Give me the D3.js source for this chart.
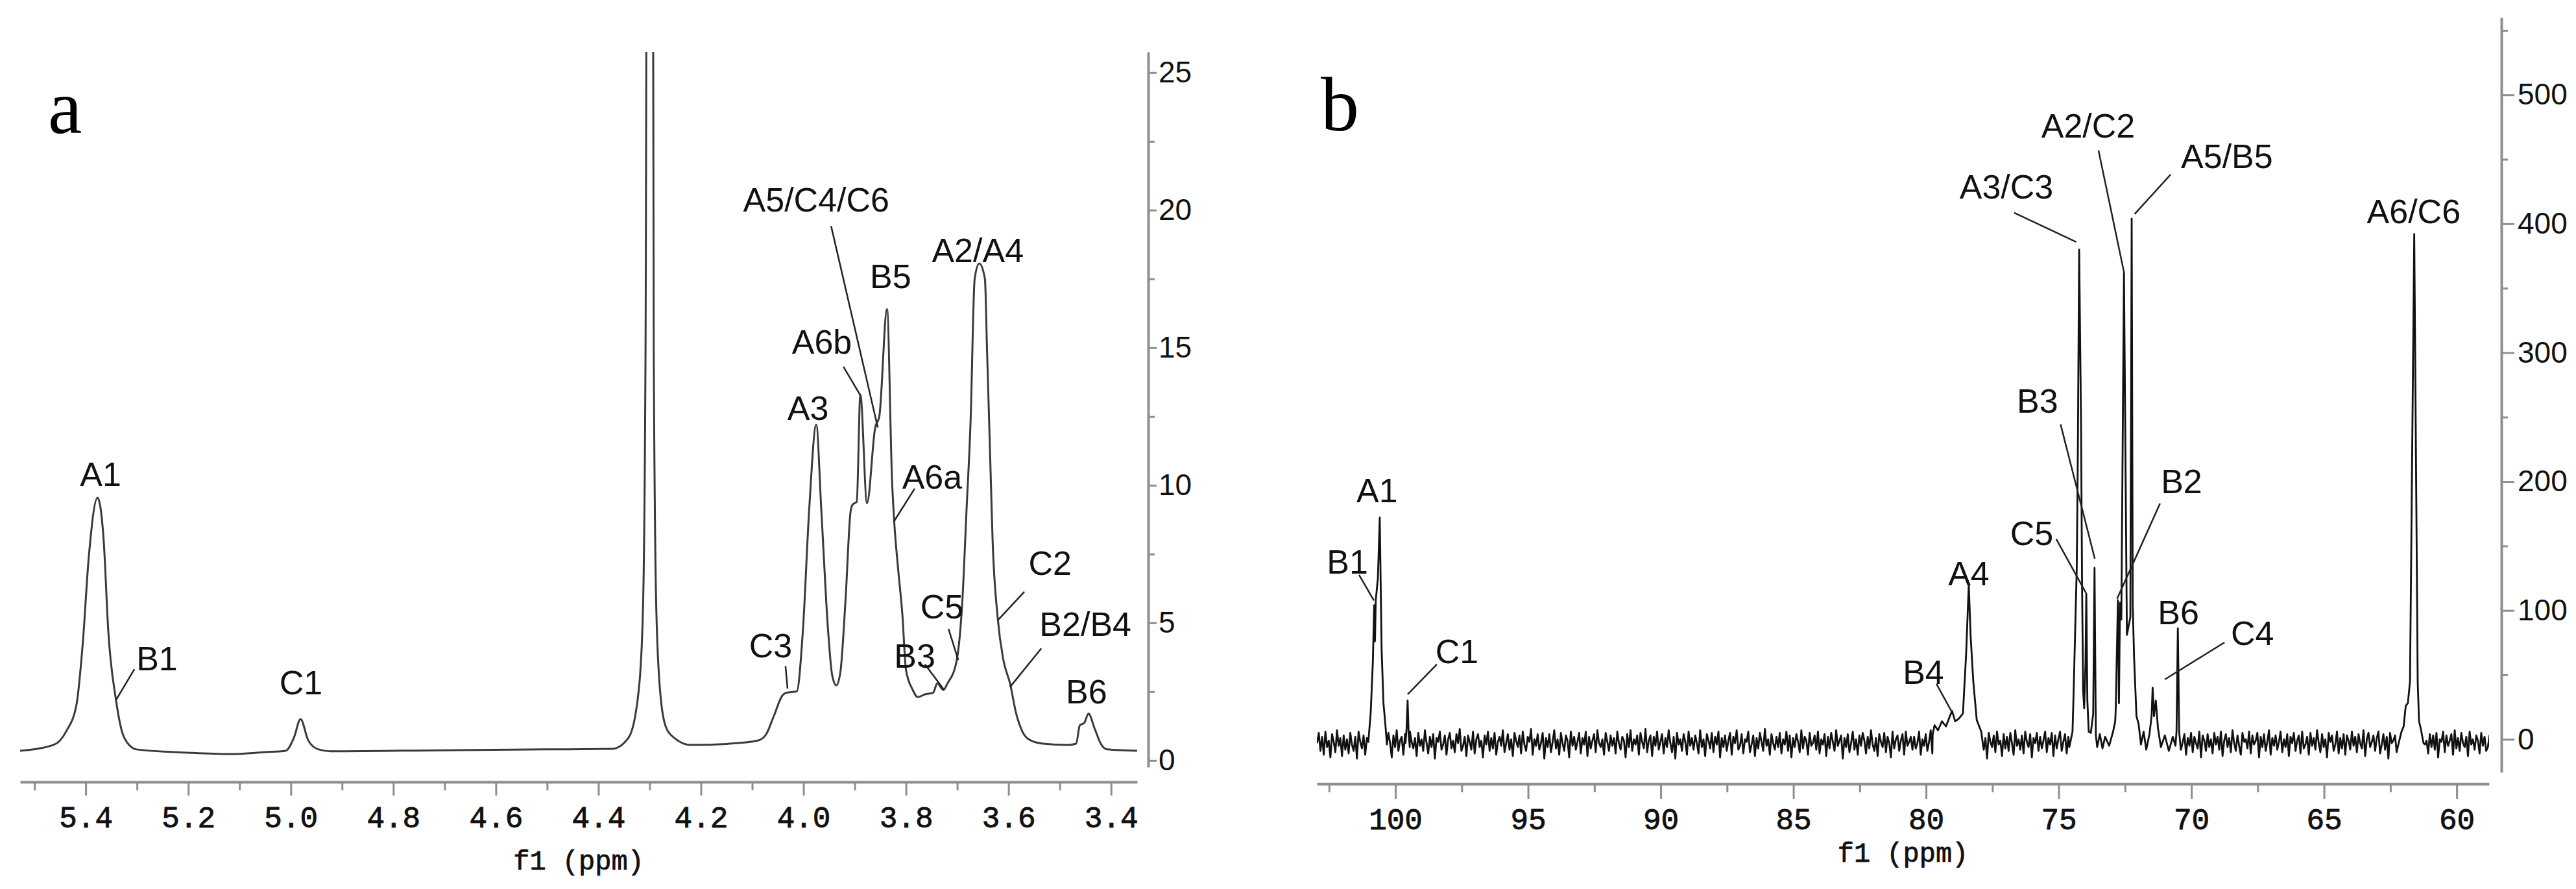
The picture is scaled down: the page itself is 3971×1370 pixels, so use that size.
<!DOCTYPE html>
<html>
<head>
<meta charset="utf-8">
<script src="https://cdn.jsdelivr.net/npm/d3@7"></script>
<style>
  body { margin: 0; background: #fff; }
</style>
</head>
<body>
<div id="nmr"></div>
<script>
// ---- panel a : 1H spectrum, traced [ppm, intensity] ----
const hSpectrum = [
  [5.528, 0.35], [5.462, 0.57], [5.438, 1.06], [5.418, 2.03], [5.406, 4.2], [5.394, 7.4],
  [5.377, 9.55], [5.365, 8.0], [5.356, 4.7], [5.341, 2.2], [5.325, 0.83], [5.301, 0.4],
  [5.2, 0.28], [5.12, 0.23], [5.05, 0.3], [5.01, 0.35], [4.994, 0.82], [4.981, 1.5],
  [4.966, 0.73], [4.946, 0.4], [4.92, 0.33], [4.7, 0.37], [4.5, 0.4], [4.373, 0.42],
  [4.341, 0.83], [4.321, 2.6], [4.313, 5.5], [4.308, 15], [4.300, 90], [4.292, 15],
  [4.287, 5.5], [4.279, 2.4], [4.268, 1.2], [4.252, 0.82], [4.219, 0.56], [4.15, 0.6],
  [4.089, 0.72], [4.073, 0.94], [4.058, 1.6], [4.041, 2.36], [4.033, 2.46], [4.013, 2.51],
  [4.001, 4.74], [3.989, 9.05], [3.975, 12.2], [3.965, 9.05], [3.952, 4.74], [3.944, 3.1],
  [3.936, 2.73], [3.928, 3.2], [3.918, 5.8], [3.908, 9.05], [3.904, 9.3], [3.896, 9.4],
  [3.889, 13.3], [3.876, 9.35], [3.860, 12.1], [3.852, 12.5], [3.837, 16.4], [3.827, 10.1],
  [3.823, 8.7], [3.815, 6.9], [3.807, 5.3], [3.8, 3.3], [3.787, 2.57], [3.777, 2.3],
  [3.763, 2.4], [3.747, 2.46], [3.739, 2.8], [3.727, 2.56], [3.719, 2.8], [3.702, 3.55],
  [3.69, 5.8], [3.682, 9.05], [3.674, 12.3], [3.666, 17.5], [3.657, 18.06], [3.646, 17.5],
  [3.642, 15], [3.636, 11.2], [3.631, 8], [3.621, 5.17], [3.61, 3.65], [3.597, 2.8],
  [3.585, 1.7], [3.573, 1.05], [3.557, 0.73], [3.533, 0.61], [3.485, 0.56], [3.468, 0.61],
  [3.461, 1.27], [3.452, 1.37], [3.444, 1.7], [3.432, 1.16], [3.42, 0.61], [3.408, 0.4],
  [3.349, 0.35]
];

// peak labels for panel a: text anchor (ppm, intensity) + optional leader line
const hLabels = [
  { t: "A1", x: 5.371, y: 9.97 },
  { t: "B1", x: 5.261, y: 3.27, l: [5.305, 3.32, 5.341, 2.19] },
  { t: "C1", x: 4.980, y: 2.40 },
  { t: "C3", x: 4.064, y: 3.745, l: [4.035, 3.43, 4.031, 2.61] },
  { t: "A3", x: 3.991, y: 12.375 },
  { t: "A6b", x: 3.964, y: 14.78, l: [3.922, 14.31, 3.889, 13.27] },
  { t: "A5/C4/C6", x: 3.975, y: 19.94, l: [3.946, 19.42, 3.855, 12.10] },
  { t: "B5", x: 3.830, y: 17.16 },
  { t: "A2/A4", x: 3.660, y: 18.10 },
  { t: "A6a", x: 3.749, y: 9.88, l: [3.783, 9.88, 3.824, 8.67] },
  { t: "C2", x: 3.519, y: 6.74, l: [3.569, 6.13, 3.620, 5.11] },
  { t: "C5", x: 3.730, y: 5.16, l: [3.717, 4.78, 3.698, 3.65] },
  { t: "B3", x: 3.783, y: 3.37, l: [3.763, 3.49, 3.726, 2.57] },
  { t: "B2/B4", x: 3.450, y: 4.52, l: [3.536, 4.07, 3.597, 2.67] },
  { t: "B6", x: 3.448, y: 2.07 }
];

const aXTicks = [5.4, 5.2, 5.0, 4.8, 4.6, 4.4, 4.2, 4.0, 3.8, 3.6, 3.4];
const aXMinor = [5.5, 5.3, 5.1, 4.9, 4.7, 4.5, 4.3, 4.1, 3.9, 3.7, 3.5];
const aYTicks = [0, 5, 10, 15, 20, 25];
const aYMinor = [2.5, 7.5, 12.5, 17.5, 22.5];

// ---- panel b : 13C spectrum ----
// peak groups [ppm, intensity]
const cA1 = [[101.02, -2], [100.93, 21], [100.85, 60], [100.80, 104], [100.77, 76], [100.74, 108],
  [100.66, 125], [100.59, 172], [100.52, 70], [100.45, 28], [100.38, 12], [100.32, -4]];
const cC1 = [[99.62, -3], [99.58, 8], [99.54, 30], [99.50, 4], [99.46, -6]];
const cA4 = [[79.75, 4], [79.68, 11], [79.55, 7], [79.40, 14], [79.25, 10], [79.10, 18], [79.02, 22],
  [78.90, 14], [78.77, 16], [78.61, 20], [78.49, 66], [78.39, 120], [78.32, 80], [78.22, 45],
  [78.09, 15], [77.92, 6], [77.85, -5]];
const cMid = [[74.60, -6], [74.48, 6], [74.44, 35], [74.32, 133], [74.28, 219], [74.23, 380],
  [74.16, 249], [74.12, 120], [74.08, 38], [74.04, 24], [73.99, 60], [73.96, 113], [73.92, 30],
  [73.87, 6], [73.79, 5], [73.70, 20], [73.65, 133], [73.60, 3], [73.55, -6], [73.45, 4],
  [73.35, -7], [73.25, 2], [73.10, -5], [72.95, 6], [72.87, 14], [72.85, 24], [72.77, 108],
  [72.73, 28], [72.69, 106], [72.64, 93], [72.54, 362], [72.43, 81], [72.30, 95], [72.25, 404],
  [72.21, 104], [72.16, 64], [72.07, 18], [71.99, 12], [71.90, -4], [71.80, 6], [71.70, -8],
  [71.58, 4], [71.50, 18], [71.46, 40], [71.41, 18], [71.34, 30], [71.26, 9], [71.15, -6],
  [71.00, 3], [70.85, -9], [70.70, 2], [70.60, -5], [70.56, 6], [70.51, 86], [70.46, 6], [70.40, -8]];
const cA6 = [[62.20, -4], [62.08, 6], [62.00, 10], [61.92, 26], [61.84, 28], [61.76, 45],
  [61.60, 392], [61.47, 45], [61.42, 14], [61.35, 8], [61.25, -3]];

// baseline noise, one value every 0.0625 ppm from 102.95 ppm
const noiseStart = 102.95, noiseStep = 0.0625;
const cNoise = [
  -3, 5, -9, 2, -12, 6, -6, -1, -14, 4, -2, -10, 7, -5, 1, -13, 3, -8, 0, -11,
  5, -4, -9, 2, -15, 6, -2, -7, 3, -12, 1, -6, 8, -10, -1, 4, -13, 0, -5, 6,
  -8, 2, -11, 5, -3, -14, 3, -6, 7, -9, -1, 2, -12, 4, -4, -10, 6, -2, -7, 1,
  -13, 5, -5, 0, -9, 7, -3, -11, 2, -6, 4, -15, 1, -2, 6, -8, -4, 3, -12, 0,
  5, -7, -1, -10, 4, -3, 8, -9, -5, 2, -13, 3, -2, -8, 6, -11, 0, 4, -6, -1,
  -14, 3, -4, 6, -9, 1, -7, 5, -12, -2, 2, -5, 7, -10, -3, 4, -8, 0, -13, 5,
  -1, -6, 3, -11, 6, -4, -9, 2, -2, 8, -12, 0, -5, 4, -8, -3, 5, -15, 1, -6,
  4, -10, -2, 7, -7, 0, -12, 5, -3, -9, 3, -1, -14, 6, -5, 2, -8, -2, 5, -11,
  1, -4, 6, -13, 2, -7, -1, 4, -10, 7, -3, -6, 0, -12, 5, -2, -9, 3, -5, 1,
  -11, 6, -3, -8, 2, -1, -14, 4, -6, 7, -9, 0, -4, 3, -12, 5, -2, -7, 8, -10,
  -1, 3, -13, 2, -5, 6, -8, -2, 4, -11, 1, -6, 7, -3, -10, 2, -15, 5, -4, 0,
  -9, 4, -2, -12, 6, -5, 1, -8, 3, -3, -11, 7, -6, 0, -13, 4, -1, -7, 5, -10,
  2, -4, 6, -14, 1, -6, 3, -9, -1, 5, -12, 2, -3, 7, -8, -5, 4, -11, 0, -2,
  6, -10, -4, 3, -13, 1, -7, 5, -2, -9, 8, -5, 0, -12, 4, -3, -8, 2, -6, 5,
  -11, 0, -4, 6, -9, 3, -14, 1, -6, 4, -2, -10, 7, -7, 2, -1, -12, 5, -5, -3,
  3, -8, 6, -11, 0, -4, 4, -13, 2, -7, 5, -2, -9, 7, -5, -1, 3, -15, 1, -6,
  4, -10, -3, 6, -8, 0, -12, 3, -5, 5, -1, -11, 2, -7, 7, -4, -9, 1, -13, 4,
  -2, -6, 5, -10, 2, -3, -14, 6, -7, 0, 3, -9, -1, 4, -12, 6, -5, -2, 2, -8,
  2, -7, -3, 6, -12, 0, -5, 4, -9, -2, 7, -11, 3, -6, -1, 5, -14, 2, -4, -8,
  6, -1, -10, 3, -5, 8, -13, -2, 4, -7, 1, -9, 5, -4, -12, 2, 0, -6, 7, -11,
  -3, 4, -8, 1, -15, 5, -2, -6, 3, -10, 6, -4, -1, -13, 4, -7, 2, -9, 5, -3,
  -12, 7, -5, 0, -8, 3, -11, 6, -2, -6, 4, -14, 1, -3, 5, -9, 2, -7, -1, 6,
  -10, 1, -4, 5, -13, 3, -7, 0, 6, -9, -2, 4, -11, 2, -5, 7, -8, -3, 1, -12,
  5, -6, 2, -10, 4, -1, -14, 6, -4, 0, -8, 3, -12, 5, -2, -7, 7, -5, -9, 2,
  -3, 6, -11, 1, -6, 4, -9, -1, 3, -13, 5, -4, 0, -10, 7, -2, -8, 4, -15, 1,
  -5, 3, -12, 6, -7, -2, 2, -10, 5, -4, -1, -9, 4, -13, 0, 6, -6, -3, 3, -11,
  7, -8, -2, 4, -12, 1, -5, 5, -10, 2, -3, -7, 6, -14, 3, -1, -9, 4, -6, 0,
  -11, 5, -4, 2, -8, 6, -13, -1, 4, -6, 1, -10, 7, -3, -9, 3, -5, -12, 5, -2,
  0, -7, 6, -11, 3, -4, -1, 5, -14, 2, -6, 4, -9, -2, 7, -12, 1, -5, 3, -8,
  -2, 6, -10, 0, -6, 4, -13, 2, -3, 5, -9, -1, 3, -11, 6, -7, -4, 2, -12, 5,
  -5, 1, -8, 7, -3, -10, 4, -6, 0, -14, 5, -2, 3, -9, -4, 6, -11, 1, -7, 4,
  -12, 3, -1, -8, 6, -5, 2, -10, 4, -3, -7, 7, -13, 0, 5, -6, -2, 3, -9, 1,
  6, -11, -4, 4, -8, 2, -15, 5, -3, -1, 3, -10, 6, -6, -2, 4, -12, 1, -5, 7,
  -9, 0, -3, 5, -13, 2, -7, 6, -4, -1, -11, 4, -6, 3, -8, 5, -14, 0, -2, 6,
  -10, 3, -5, -1, 4, -12, 7, -7, 1, -9, 5, -3, -6, 2, -13, 6, -4, 0, -8, 3,
  -1, -11, 5, -5, 2, -9, -6, 3, -10, 1
];

const cLabels = [
  { t: "A1", x: 100.69, y: 184 },
  { t: "B1", x: 101.81, y: 128.6, l: [101.37, 127.6, 100.81, 107.7] },
  { t: "C1", x: 97.68, y: 59.1, l: [98.44, 58.1, 99.54, 34.9] },
  { t: "B4", x: 80.10, y: 43.0, l: [79.61, 43.0, 79.02, 21.0] },
  { t: "A4", x: 78.39, y: 119.5 },
  { t: "C5", x: 76.02, y: 150.7, l: [75.09, 155.3, 73.97, 113.5] },
  { t: "B3", x: 75.80, y: 253.4, l: [74.93, 244.4, 73.64, 140.2] },
  { t: "A3/C3", x: 76.97, y: 419.6, l: [76.68, 408.5, 74.34, 385.9] },
  { t: "A2/C2", x: 73.89, y: 467, l: [73.50, 456.9, 72.54, 362.4] },
  { t: "A5/B5", x: 68.66, y: 443.3, l: [70.78, 438.2, 72.14, 407.5] },
  { t: "B2", x: 70.37, y: 191, l: [71.18, 183, 72.80, 109] },
  { t: "B6", x: 70.49, y: 89.3 },
  { t: "C4", x: 67.70, y: 73.2, l: [68.75, 75.2, 71.00, 46.5] },
  { t: "A6/C6", x: 61.62, y: 400.5 }
];

const bXTicks = [100, 95, 90, 85, 80, 75, 70, 65, 60];
const bXMinor = [102.5, 97.5, 92.5, 87.5, 82.5, 77.5, 72.5, 67.5, 62.5];
const bYTicks = [0, 100, 200, 300, 400, 500];
const bYMinor = [50, 150, 250, 350, 450, 550];

// ---- drawing ----
const width = 3971, height = 1370;
const axisGrey = "#8e8e8e";
const labelFont = "'Liberation Sans', Arial, sans-serif";
const monoFont = "'Liberation Mono', 'Courier New', monospace";

const svg = d3.select("#nmr")
  .append("svg")
  .attr("width", width)
  .attr("height", height)
  .attr("viewBox", [0, 0, width, height])
  .style("background", "#fff");

// style an axis group the way the spectrum software does
function styleAxis(g, fontFamily, fontSize, heavy) {
  g.attr("font-family", fontFamily).attr("font-size", fontSize);
  g.select(".domain").attr("stroke", axisGrey).attr("stroke-width", 4);
  g.selectAll(".tick line").attr("stroke", axisGrey).attr("stroke-width", 3);
  g.selectAll(".tick text").attr("fill", "#111");
  if (heavy) g.selectAll(".tick text").attr("stroke", "#111").attr("stroke-width", 0.9);
}

function drawPanel(cfg) {
  const x = d3.scaleLinear().domain(cfg.xDomain).range(cfg.xRange);
  const y = d3.scaleLinear().domain(cfg.yDomain).range(cfg.yRange);

  // x axis (major + minor ticks)
  svg.append("g")
    .attr("transform", `translate(0,${cfg.xAxisY})`)
    .call(d3.axisBottom(x).tickValues(cfg.xTicks).tickSize(cfg.xTickLen)
      .tickPadding(cfg.xPad).tickSizeOuter(0).tickFormat(cfg.xFormat))
    .call(g => styleAxis(g, monoFont, 46, true));
  svg.append("g")
    .attr("transform", `translate(0,${cfg.xAxisY})`)
    .call(d3.axisBottom(x).tickValues(cfg.xMinor).tickSize(13).tickFormat(""))
    .call(g => { g.select(".domain").remove(); styleAxis(g, monoFont, 46); });

  // axis title
  svg.append("text")
    .attr("x", (cfg.xRange[0] + cfg.xRange[1]) / 2)
    .attr("y", cfg.titleY)
    .attr("text-anchor", "middle")
    .attr("font-family", monoFont)
    .attr("font-size", 42)
    .attr("fill", "#111")
    .attr("stroke", "#111")
    .attr("stroke-width", 0.8)
    .text("f1 (ppm)");

  // right-hand y axis
  svg.append("g")
    .attr("transform", `translate(${cfg.yAxisX},0)`)
    .call(d3.axisRight(y).tickValues(cfg.yTicks).tickSize(cfg.yTickLen)
      .tickPadding(cfg.yPad).tickSizeOuter(0))
    .call(g => styleAxis(g, labelFont, 46));
  svg.append("g")
    .attr("transform", `translate(${cfg.yAxisX},0)`)
    .call(d3.axisRight(y).tickValues(cfg.yMinor).tickSize(10).tickFormat(""))
    .call(g => { g.select(".domain").remove(); styleAxis(g, labelFont, 46); });

  // spectrum, clipped to the plotting box
  svg.append("clipPath").attr("id", cfg.id + "-clip")
    .append("rect")
    .attr("x", cfg.xRange[0]).attr("y", cfg.yRange[1])
    .attr("width", cfg.xRange[1] - cfg.xRange[0])
    .attr("height", cfg.yRange[0] - cfg.yRange[1]);

  const line = d3.line()
    .x(d => x(d[0]))
    .y(d => y(d[1]))
    .curve(cfg.curve);

  svg.append("path")
    .datum(cfg.data)
    .attr("clip-path", `url(#${cfg.id}-clip)`)
    .attr("fill", "none")
    .attr("stroke", cfg.stroke)
    .attr("stroke-width", cfg.strokeWidth)
    .attr("stroke-linejoin", "round")
    .attr("d", line);

  // leader lines
  svg.append("g")
    .selectAll("line")
    .data(cfg.labels.filter(d => d.l))
    .join("line")
    .attr("x1", d => x(d.l[0])).attr("y1", d => y(d.l[1]))
    .attr("x2", d => x(d.l[2])).attr("y2", d => y(d.l[3]))
    .attr("stroke", "#222")
    .attr("stroke-width", 2.5);

  // peak labels
  svg.append("g")
    .selectAll("text")
    .data(cfg.labels)
    .join("text")
    .attr("x", d => x(d.x))
    .attr("y", d => y(d.y))
    .attr("text-anchor", "middle")
    .attr("font-family", labelFont)
    .attr("font-size", 52)
    .attr("fill", "#111")
    .text(d => d.t);

  // panel letter
  svg.append("text")
    .attr("x", cfg.letterX).attr("y", cfg.letterY)
    .attr("font-family", "'Liberation Serif', 'Times New Roman', serif")
    .attr("font-size", 118)
    .attr("fill", "#000")
    .text(cfg.letter);
}

// panel b trace: peaks merged with baseline noise outside the peak windows
const cGroups = [cA1, cC1, cA4, cMid, cA6];
const windows = cGroups.map(g => d3.extent(g, d => d[0]));
const noisePts = cNoise
  .map((v, i) => [noiseStart - i * noiseStep, v])
  .filter(p => !windows.some(w => p[0] >= w[0] && p[0] <= w[1]));
const cSpectrum = noisePts.concat(...cGroups).sort((a, b) => b[0] - a[0]);

drawPanel({
  id: "a", letter: "a", letterX: 74, letterY: 205,
  data: hSpectrum, labels: hLabels, curve: d3.curveMonotoneX,
  stroke: "#3a3a3a", strokeWidth: 3,
  xDomain: [5.528, 3.349], xRange: [31, 1753],
  yDomain: [-0.24, 25.75], yRange: [1182, 80],
  xAxisY: 1205, xTicks: aXTicks, xMinor: aXMinor, xTickLen: 21, xPad: 16,
  xFormat: d3.format(".1f"), titleY: 1340,
  yAxisX: 1770, yTicks: aYTicks, yMinor: aYMinor, yTickLen: 13, yPad: 3
});

drawPanel({
  id: "b", letter: "b", letterX: 2036, letterY: 201,
  data: cSpectrum, labels: cLabels, curve: d3.curveLinear,
  stroke: "#111", strokeWidth: 2.8,
  xDomain: [102.96, 58.78], xRange: [2030, 3837],
  yDomain: [-25.5, 560], yRange: [1190, 27],
  xAxisY: 1208, xTicks: bXTicks, xMinor: bXMinor, xTickLen: 23, xPad: 14,
  xFormat: d3.format("d"), titleY: 1328,
  yAxisX: 3856, yTicks: bYTicks, yMinor: bYMinor, yTickLen: 20, yPad: 5
});
</script>
</body>
</html>
